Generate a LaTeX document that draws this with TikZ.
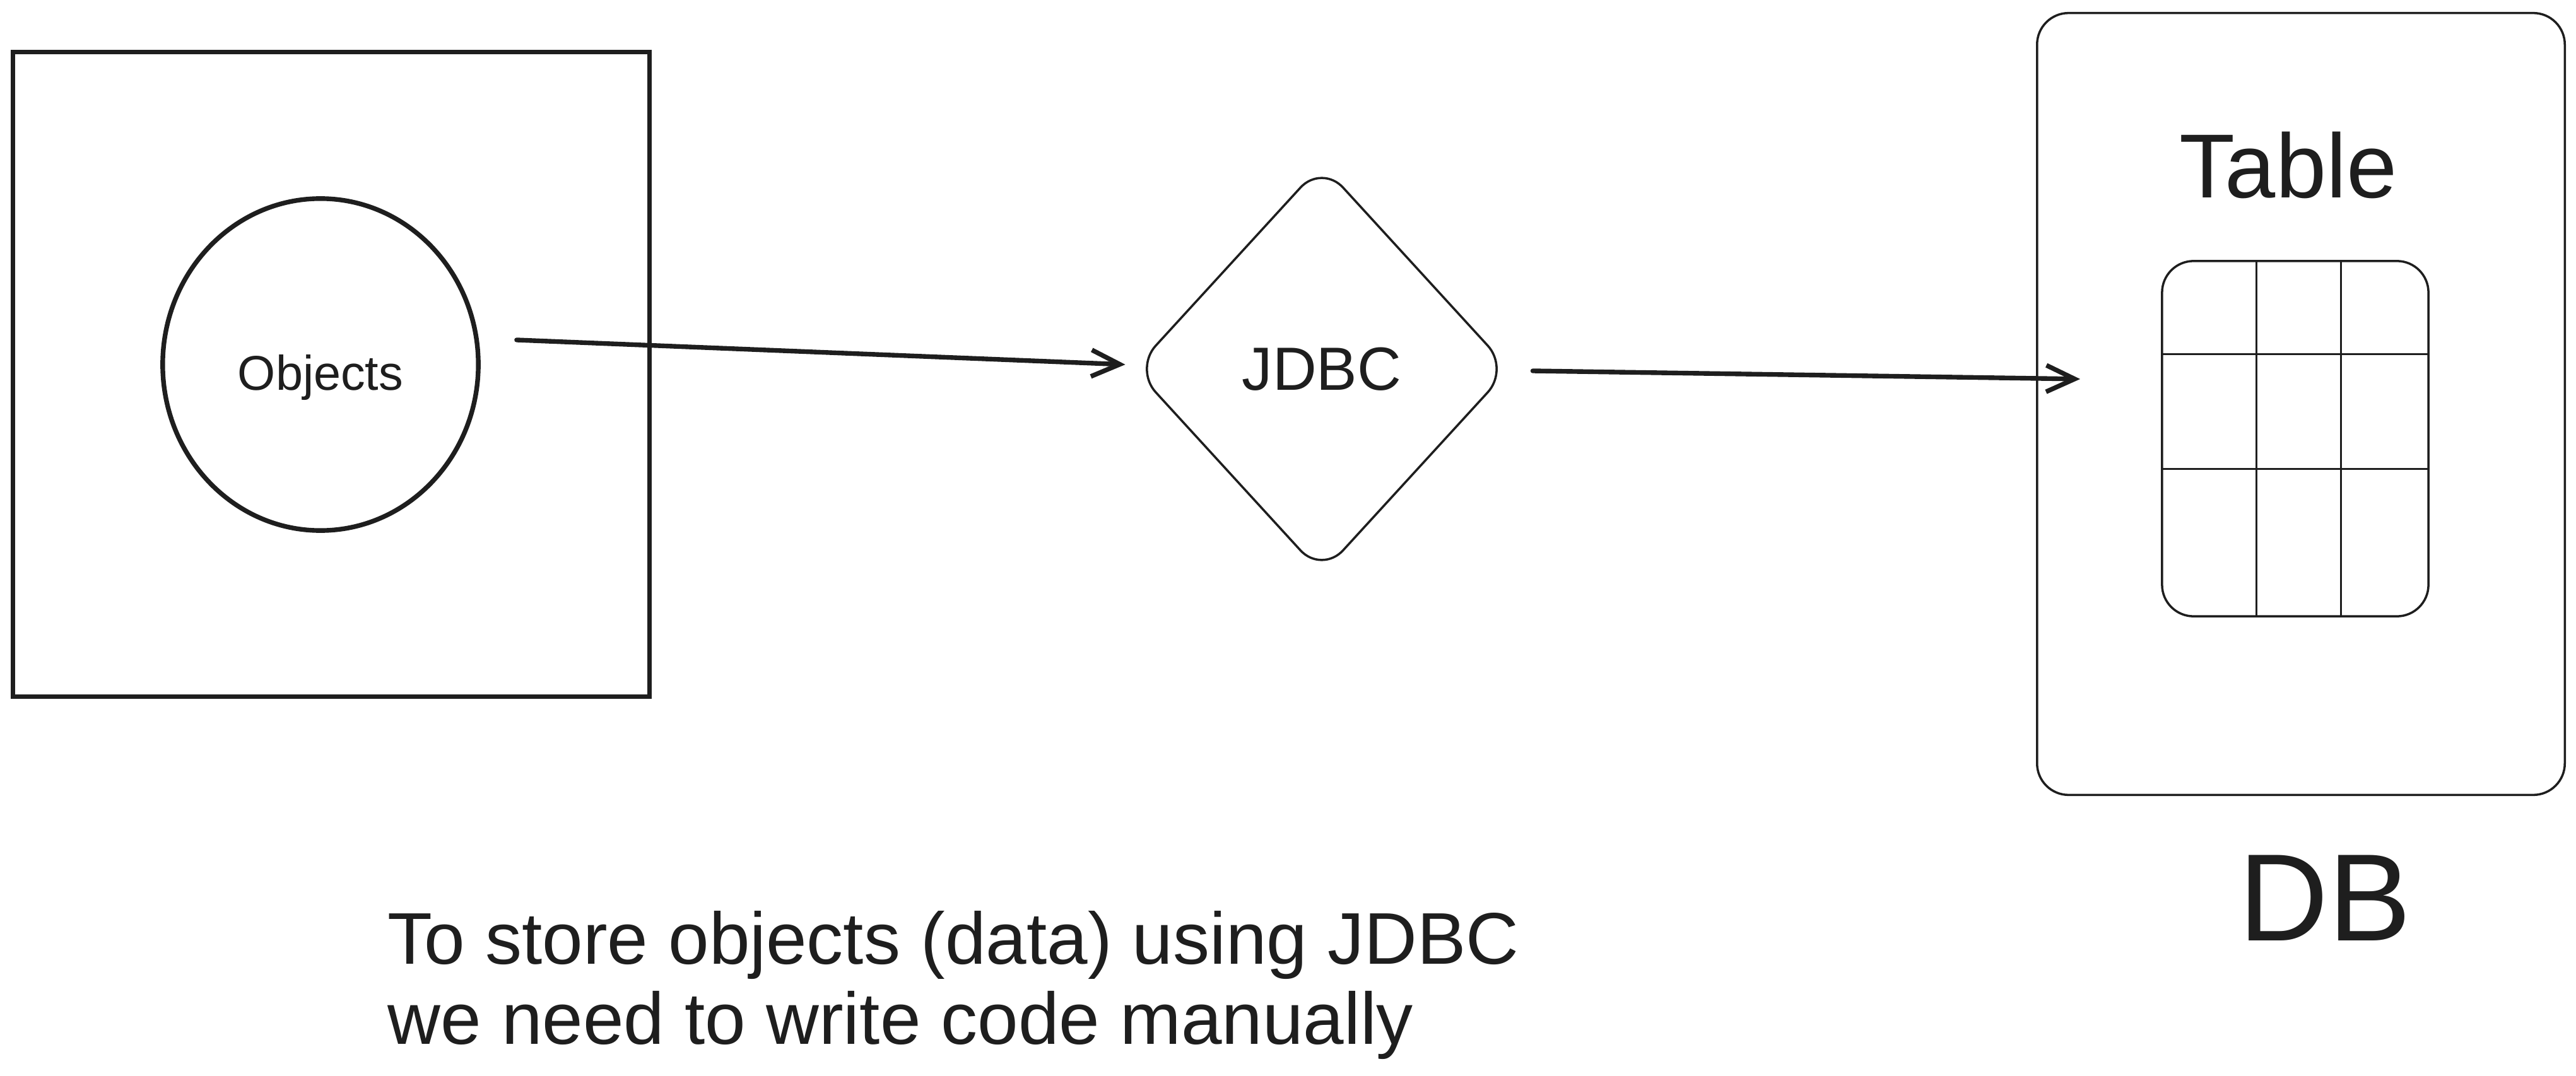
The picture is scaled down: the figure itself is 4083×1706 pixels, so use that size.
\documentclass[tikz,border=0pt]{standalone}
\usepackage{fontspec}
\setmainfont{Liberation Sans}
\usepackage{tikz}
\usetikzlibrary{arrows.meta,shapes.geometric,positioning,calc}
\definecolor{ink}{HTML}{1E1E1E}

\begin{document}
\begin{tikzpicture}[x=0.01cm,y=-0.01cm,color=ink]
\tikzstyle{frame}=[draw,line width=2.1pt,minimum width=10.08cm,minimum height=10.21cm,inner sep=0]
\tikzstyle{blob}=[draw,ellipse,line width=2.1pt,minimum width=5.0cm,minimum height=5.26cm,inner sep=0]
\tikzstyle{gate}=[draw,diamond,rounded corners=0.5cm,line width=1pt,minimum width=5.95cm,minimum height=6.5cm,inner sep=0,font=\fontsize{27.5}{32}\selectfont]
\tikzstyle{store}=[draw,rounded corners=0.5cm,line width=1pt,minimum width=8.36cm,minimum height=12.39cm,inner sep=0]
\tikzstyle{tablebox}=[draw,rounded corners=0.5cm,line width=1pt,minimum width=4.22cm,minimum height=5.63cm,inner sep=0]
\tikzstyle{flow}=[-{Straight Barb[length=0.45cm,width=0.42cm]},line width=2.1pt,line cap=round]
\useasboundingbox (0,0) rectangle (4083,1706);

\node (app) [frame] at (525,593.5) {};
\node (obj) [blob] at (508,578) {};
\node (objects) [inner sep=0,font=\fontsize{22}{26}\selectfont] at ([yshift=-0.2cm]obj.center) {Objects};
\node (jdbc) [gate] at (2095,585) {JDBC};
\node (db) [store] at (3647,640.5) {};
\node (tbl) [tablebox] at (3638,695.5) {};
\node (table) [inner sep=0,font=\fontsize{41}{46}\selectfont] at (3627,262) {Table};
\node (dbname) [inner sep=0,font=\fontsize{56}{60}\selectfont] at ([xshift=0.38cm,yshift=-1.62cm]db.south) {DB};
\node (note) [anchor=west,align=left,inner sep=0,font=\fontsize{33}{36}\selectfont] at (614,1562)
  {To store objects (data) using JDBC\\we need to write code manually};

\draw[flow] ([xshift=0.57cm,yshift=0.39cm]obj.east) -- ([xshift=-0.12cm,yshift=0.07cm]jdbc.west);
\draw[flow] ([xshift=0.35cm,yshift=-0.03cm]jdbc.east) -- ([xshift=0.70cm,yshift=0.395cm]db.west);

% rows and columns of the table
\foreach \f in {0.356,0.671}
  \draw[line width=0.8pt] ($(tbl.north west)!\f!(tbl.north east)$) -- ($(tbl.south west)!\f!(tbl.south east)$);
\foreach \f in {0.264,0.585}
  \draw[line width=0.8pt] ($(tbl.north west)!\f!(tbl.south west)$) -- ($(tbl.north east)!\f!(tbl.south east)$);
\end{tikzpicture}
\end{document}
